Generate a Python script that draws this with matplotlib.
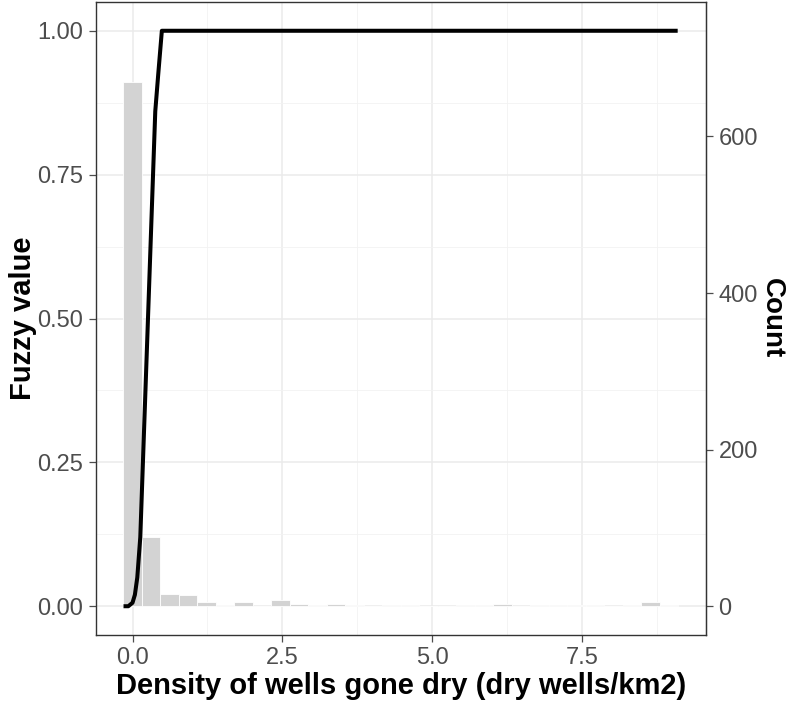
import numpy as np
import matplotlib
matplotlib.use("Agg")
import matplotlib.pyplot as plt

plt.rcParams['font.family'] = ['Liberation Sans', 'DejaVu Sans']

# Histogram (30 bins, bin width ~0.309, first bin centred at 0)
bin_width = 0.3088
bin_centers = [i * bin_width for i in range(30)]
counts = [670, 89, 15, 14, 5, 2, 5, 0, 8, 3,
          1, 3, 1, 0, 1, 1, 0, 0, 1, 1,
          3, 0, 1, 2, 1, 1, 0, 1, 5, 2]

# Fuzzy membership curve
curve_x = [-0.15, -0.07, 0.0, 0.04, 0.08, 0.13, 0.38, 0.43, 0.49, 9.1]
curve_y = [0.0, 0.0, 0.006, 0.02, 0.05, 0.12, 0.86, 0.925, 1.0, 1.0]

count_scale = 735.0  # counts per fuzzy-unit (secondary axis)

x_ticks = [0.0, 2.5, 5.0, 7.5]
x_tick_labels = ["0.0", "2.5", "5.0", "7.5"]
y_ticks = [0.0, 0.25, 0.5, 0.75, 1.0]
y_tick_labels = ["0.00", "0.25", "0.50", "0.75", "1.00"]
count_ticks = [0, 200, 400, 600]

W, H = 789, 705
fig = plt.figure(figsize=(W / 100, H / 100), dpi=100)
ax = fig.add_axes([95.5 / W, (H - 635) / H, (706 - 95.5) / W, (635 - 2) / H])

# grid
for v in x_ticks:
    ax.axvline(v, color='#ebebeb', lw=1.1, zorder=0)
for v in [1.25, 3.75, 6.25, 8.75]:
    ax.axvline(v, color='#f2f2f2', lw=0.6, zorder=0)
for v in y_ticks:
    ax.axhline(v, color='#ebebeb', lw=1.1, zorder=0)
for v in [0.125, 0.375, 0.625, 0.875]:
    ax.axhline(v, color='#f2f2f2', lw=0.6, zorder=0)

heights = np.array(counts) / count_scale
ax.bar(bin_centers, heights, width=bin_width, color='#d3d3d3',
       edgecolor='white', linewidth=0.6, zorder=2)
ax.plot(curve_x, curve_y, color='black', lw=2.9, zorder=3,
        solid_joinstyle='round', solid_capstyle='butt')

xmin = min(bin_centers[0] - bin_width / 2, min(curve_x))
xmax = max(bin_centers[-1] + bin_width / 2, max(curve_x))
pad = 0.05 * (xmax - xmin)
ax.set_xlim(xmin - pad, xmax + pad)
ax.set_ylim(-0.05, 1.05)

ax.set_xticks(x_ticks)
ax.set_xticklabels(x_tick_labels)
ax.set_yticks(y_ticks)
ax.set_yticklabels(y_tick_labels)
ax.tick_params(axis='both', labelsize=17, colors='#4d4d4d', length=5,
               width=0.9, pad=4)
for s in ax.spines.values():
    s.set_color('#333333')
    s.set_linewidth(1.0)

ax.set_xlabel("Density of wells gone dry (dry wells/km2)", fontsize=21,
              fontweight='bold', labelpad=2)
ax.set_ylabel("Fuzzy value", fontsize=21, fontweight='bold', labelpad=0)

sec = ax.secondary_yaxis('right', functions=(lambda v: v * count_scale,
                                             lambda c: c / count_scale))
sec.set_yticks(count_ticks)
sec.tick_params(axis='y', labelsize=17, colors='#4d4d4d', length=5,
                width=0.9, pad=4)
sec.spines['right'].set_color('#333333')
sec.set_ylabel("Count", fontsize=20, fontweight='bold', rotation=270,
               labelpad=19)

fig.savefig("out.png", dpi=100)
